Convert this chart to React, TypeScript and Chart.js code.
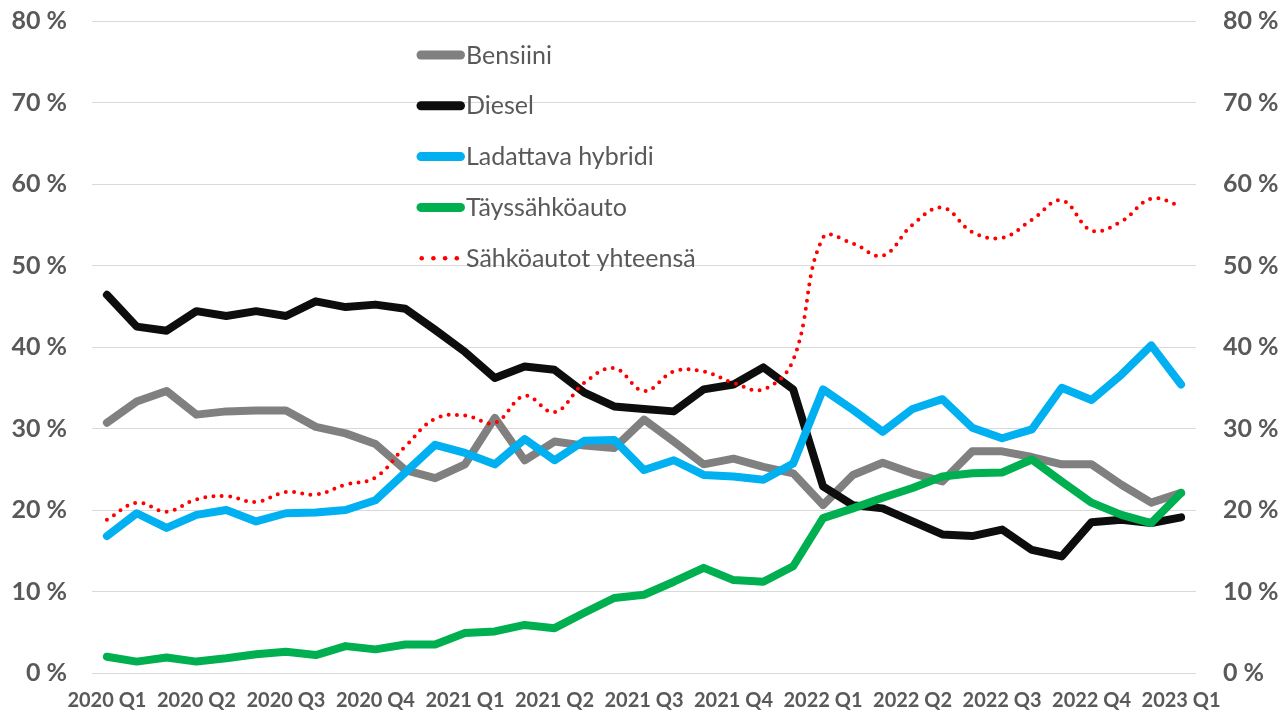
import { useEffect, useRef } from 'react';
import { Chart, registerables } from 'chart.js';

Chart.register(...registerables);

const months = [
  '2020-01', '2020-02', '2020-03', '2020-04', '2020-05', '2020-06', '2020-07', '2020-08', '2020-09', '2020-10', '2020-11', '2020-12',
  '2021-01', '2021-02', '2021-03', '2021-04', '2021-05', '2021-06', '2021-07', '2021-08', '2021-09', '2021-10', '2021-11', '2021-12',
  '2022-01', '2022-02', '2022-03', '2022-04', '2022-05', '2022-06', '2022-07', '2022-08', '2022-09', '2022-10', '2022-11', '2022-12',
  '2023-01',
];

const quarterLabels = [
  '2020 Q1', '2020 Q2', '2020 Q3', '2020 Q4',
  '2021 Q1', '2021 Q2', '2021 Q3', '2021 Q4',
  '2022 Q1', '2022 Q2', '2022 Q3', '2022 Q4',
  '2023 Q1',
];

const yTicks = [0, 10, 20, 30, 40, 50, 60, 70, 80];

const bensiini = [
  30.7, 33.3, 34.6, 31.7, 32.1, 32.2, 32.2, 30.2, 29.4, 28.1, 24.9, 23.9,
  25.6, 31.3, 26.1, 28.4, 27.9, 27.6, 31.1, 28.4, 25.6, 26.3, 25.3, 24.5,
  20.6, 24.3, 25.8, 24.5, 23.5, 27.2, 27.2, 26.5, 25.6, 25.6, 23.1, 20.9,
  22.1,
];

const diesel = [
  46.4, 42.5, 42.0, 44.4, 43.8, 44.4, 43.8, 45.6, 44.9, 45.2, 44.7, 42.1,
  39.4, 36.2, 37.6, 37.2, 34.4, 32.7, 32.4, 32.1, 34.8, 35.4, 37.5, 34.8,
  22.9, 20.6, 20.2, 18.6, 17.0, 16.8, 17.6, 15.1, 14.3, 18.5, 18.8, 18.4,
  19.1,
];

const ladattava = [
  16.8, 19.6, 17.8, 19.4, 20.0, 18.6, 19.6, 19.7, 20.0, 21.2, 24.6, 28.0,
  27.0, 25.6, 28.7, 26.1, 28.5, 28.6, 24.9, 26.1, 24.3, 24.1, 23.7, 25.7,
  34.8, 32.3, 29.6, 32.4, 33.6, 30.1, 28.8, 29.9, 35.0, 33.5, 36.6, 40.2,
  35.4,
];

const tayssahko = [
  2.0, 1.4, 1.9, 1.4, 1.8, 2.3, 2.6, 2.2, 3.3, 2.9, 3.5, 3.5,
  4.9, 5.1, 5.9, 5.5, 7.4, 9.2, 9.6, 11.2, 12.9, 11.4, 11.2, 13.1,
  19.0, 20.2, 21.5, 22.7, 24.1, 24.5, 24.6, 26.2, 23.5, 20.9, 19.4, 18.4,
  22.1,
];

const sahkoYht = [
  18.8, 20.9, 19.8, 21.3, 21.7, 21.0, 22.2, 21.9, 23.1, 24.0, 27.8, 31.2,
  31.6, 30.7, 34.0, 32.0, 35.6, 37.4, 34.6, 37.0, 37.0, 35.6, 34.8, 38.4,
  53.4, 52.7, 51.2, 55.0, 57.1, 54.1, 53.4, 55.6, 58.0, 54.3, 55.4, 58.2,
  57.3,
];

const seriesNames = ['Bensiini', 'Diesel', 'Ladattava hybridi', 'Täyssähköauto', 'Sähköautot yhteensä'];
const seriesColors = ['#808080', '#0d0d0d', '#00b0f0', '#00b050', '#ff0000'];

const TEXT = '#595959';

const legendPlugin = {
  id: 'insideLegend',
  afterDatasetsDraw(chart: any) {
    const ctx = chart.ctx as CanvasRenderingContext2D;
    ctx.save();
    ctx.font = '25px Lato';
    ctx.textBaseline = 'alphabetic';
    ctx.textAlign = 'left';
    seriesNames.forEach((name, k) => {
      const y = 55 + k * 50.8;
      const color = seriesColors[k];
      if (k < 4) {
        ctx.strokeStyle = color;
        ctx.lineWidth = 9;
        ctx.lineCap = 'round';
        ctx.beginPath();
        ctx.moveTo(421, y);
        ctx.lineTo(460.5, y);
        ctx.stroke();
      } else {
        ctx.fillStyle = color;
        for (let j = 0; j < 4; j++) {
          ctx.beginPath();
          ctx.arc(421.7 + j * 11.7, y, 2.3, 0, Math.PI * 2);
          ctx.fill();
        }
      }
      ctx.fillStyle = TEXT;
      ctx.fillText(name, 466, y + 8.5);
    });
    ctx.restore();
  },
};

export default function App() {
  const ref = useRef<HTMLCanvasElement>(null);
  useEffect(() => {
    document.body.style.margin = '0';
    let chart: Chart | null = null;
    let cancelled = false;
    const make = () => {
      if (cancelled || !ref.current) return;
      const solid = (data: number[], k: number, order: number) => ({
        label: seriesNames[k],
        data,
        borderColor: seriesColors[k],
        backgroundColor: seriesColors[k],
        borderWidth: 8,
        borderJoinStyle: 'round' as const,
        borderCapStyle: 'round' as const,
        pointRadius: 0,
        tension: 0,
        fill: false,
        order,
        yAxisID: 'y',
      });
      const tickFont = { family: 'Lato', weight: 'bold' as const, size: 25 };
      const fitY = (w: number) => (s: any) => {
        s.width = w;
        s.paddingTop = 0;
        s.paddingBottom = 0;
      };
      chart = new Chart(ref.current, {
        type: 'line',
        data: {
          labels: months,
          datasets: [
            solid(bensiini, 0, 5),
            solid(diesel, 1, 4),
            solid(ladattava, 2, 3),
            solid(tayssahko, 3, 2),
            {
              label: seriesNames[4],
              data: sahkoYht,
              borderColor: seriesColors[4],
              backgroundColor: seriesColors[4],
              borderWidth: 4,
              borderDash: [0, 8.3],
              borderCapStyle: 'round',
              pointRadius: 0,
              tension: 0.4,
              fill: false,
              order: 1,
              yAxisID: 'y',
            },
          ],
        },
        options: {
          responsive: false,
          animation: false,
          devicePixelRatio: 1,
          layout: { padding: { top: 21, left: 0, right: 0, bottom: 0 } },
          plugins: {
            legend: { display: false },
            tooltip: { enabled: false },
          },
          scales: {
            x: {
              type: 'category',
              offset: true,
              grid: { display: false, drawTicks: false },
              border: { display: false },
              ticks: {
                autoSkip: false,
                maxRotation: 0,
                minRotation: 0,
                padding: 16,
                color: TEXT,
                font: { family: 'Lato', weight: 'bold', size: 20 },
                callback: (_v: any, index: number) => (index % 3 === 0 ? quarterLabels[index / 3] : ''),
              },
              afterFit: (s: any) => {
                s.height = 41;
                s.paddingLeft = 0;
                s.paddingRight = 0;
              },
            },
            y: {
              position: 'left',
              min: yTicks[0],
              max: yTicks[yTicks.length - 1],
              grid: { color: '#d9d9d9', lineWidth: 1, drawTicks: false },
              border: { display: false },
              ticks: {
                stepSize: 10,
                padding: 25,
                color: TEXT,
                font: tickFont,
                callback: (v: any) => v + ' %',
              },
              afterFit: fitY(92),
            },
            y1: {
              position: 'right',
              min: yTicks[0],
              max: yTicks[yTicks.length - 1],
              grid: { display: false, drawTicks: false },
              border: { display: false },
              ticks: {
                stepSize: 10,
                padding: 27,
                color: TEXT,
                font: tickFont,
                callback: (v: any) => v + ' %',
              },
              afterFit: fitY(85),
            },
          },
        },
        plugins: [legendPlugin],
      } as any);
    };
    const fonts = (document as any).fonts;
    if (fonts && fonts.load) {
      Promise.all([
        fonts.load('bold 25px Lato'),
        fonts.load('bold 20px Lato'),
        fonts.load('25px Lato'),
      ]).then(make, make);
    } else {
      make();
    }
    return () => {
      cancelled = true;
      if (chart) chart.destroy();
    };
  }, []);
  return <canvas ref={ref} width={1281} height={714} style={{ display: 'block', width: 1281, height: 714 }} />;
}
